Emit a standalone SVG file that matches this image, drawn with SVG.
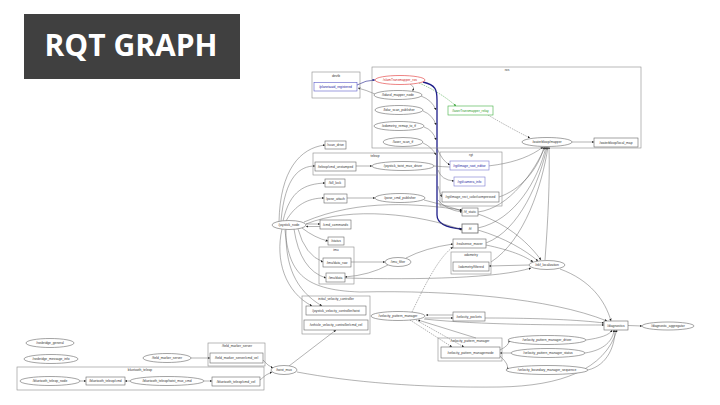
<svg xmlns="http://www.w3.org/2000/svg" width="720" height="405" viewBox="0 0 720 405">
<defs>
<marker id="a" viewBox="0 0 10 10" refX="10" refY="5" markerWidth="2.4" markerHeight="2.4" markerUnits="userSpaceOnUse" orient="auto"><path d="M0,0 L10,5 L0,10 z" fill="#222"/></marker>
<marker id="ab" viewBox="0 0 10 10" refX="10" refY="5" markerWidth="2.6" markerHeight="2.6" markerUnits="userSpaceOnUse" orient="auto"><path d="M0,0 L10,5 L0,10 z" fill="#1e1e8a"/></marker>
<marker id="ag" viewBox="0 0 10 10" refX="10" refY="5" markerWidth="2.4" markerHeight="2.4" markerUnits="userSpaceOnUse" orient="auto"><path d="M0,0 L10,5 L0,10 z" fill="#2a9a2a"/></marker>
</defs>
<style>
.bg{fill:#fff}
.title{fill:#404040}
.tt{font-family:"Open Sans","Liberation Sans",sans-serif;font-weight:700;font-size:30px;fill:#fff;text-anchor:middle}
.cl{fill:none;stroke:#8a8a8a;stroke-width:0.6}
.nb{fill:#fff;stroke:#666;stroke-width:0.6}
.ne{fill:#fff;stroke:#666;stroke-width:0.6}
.t{font-family:"Liberation Sans",Arial,sans-serif;font-size:3.3px;fill:#333;text-anchor:middle}
.blue{fill:#1a1aa0}
.red{fill:#d02020}
.green{fill:#2a9a2a}
.e{fill:none;stroke:#555;stroke-width:0.45;marker-end:url(#a)}
.ed{fill:none;stroke:#555;stroke-width:0.45;stroke-dasharray:1.5 1;marker-end:url(#a)}
.eb{fill:none;stroke:#1e1e8a;stroke-width:0.6;marker-end:url(#ab)}
.eg{fill:none;stroke:#2a9a2a;stroke-width:0.5;stroke-dasharray:1.5 1;marker-end:url(#ag)}
</style>
<rect class="bg" x="0" y="0" width="720" height="405"/>
<g id="title">
<rect class="title" x="24" y="14" width="216" height="65"/>
<text class="tt" x="131" y="56">RQT GRAPH</text>
</g>

<g id="connectors">
<path class="eb" d="M357,85 Q366,80 375,80"/>
<path class="e" d="M375,94 Q366,90 358,88"/>
<path class="eg" d="M419,83 Q440,92 456,106"/>
<path class="ed" d="M488,115 Q510,128 530,138"/>
<path class="e" d="M572,142 L594,142"/>
<path class="eb" style="stroke-width:1.3" d="M423,82 C436,85 437,90 437,100 L437,215 Q437,227 462,229"/>
<path class="e" d="M410,84 Q416,88 412,90.5"/>
<path class="e" d="M421,96 Q432,100 436,110"/>
<path class="e" d="M423,111 Q433,115 436,125"/>
<path class="e" d="M424,127 Q433,130 436,140"/>
<path class="e" d="M423,143 Q432,147 436,155"/>
<path class="e" d="M437,148 Q442,161 450,165"/>
<path class="e" d="M438,170 Q441,180 454,181"/>
<path class="e" d="M438,186 Q440,194 442,197"/>
<path class="e" d="M438,200 Q446,210 462,212"/>
<path class="e" d="M306,224 C350,206 420,214 462,230"/>
<path class="e" d="M304,222 C360,198 420,204 462,210"/>
<path class="e" d="M424,200 Q445,205 462,211"/>
<path class="e" d="M478,212 C510,208 535,170 545,147"/>
<path class="e" d="M478,228 C515,220 538,180 546,147"/>
<path class="e" d="M486,243 C520,230 540,180 547,147"/>
<path class="e" d="M491,262 C525,240 542,185 548,147"/>
<path class="e" d="M499,197 C520,190 538,170 544,147"/>
<path class="e" d="M545,260 C548,220 550,180 549,147"/>
<path class="e" d="M434,166 C480,170 520,165 543,147"/>
<path class="e" d="M478,230 C505,238 525,250 538,261"/>
<path class="e" d="M478,214 C510,225 530,245 541,260"/>
<path class="e" d="M486,245 C510,250 525,256 533,262"/>
<path class="e" d="M529,265 L489,266"/>
<path class="e" d="M345,278 C420,280 500,278 531,268"/>
<path class="e" d="M351,262 L385,262"/>
<path class="e" d="M388,265 Q370,275 345,277"/>
<path class="e" d="M406,258 Q425,248 453,244"/>
<path class="ed" d="M412,312 C425,285 438,258 453,247"/>
<path class="e" d="M560,269 C590,280 605,300 611,321"/>
<path class="e" d="M285,230 C289,270 300,290 360,292 C450,290 550,298 607,321"/>
<path class="e" d="M453,315 L426,315"/>
<path class="e" d="M425,318 L453,318"/>
<path class="e" d="M424,319 C480,325 560,325 604,325"/>
<path class="e" d="M485,318 C540,318 580,320 604,323"/>
<path class="ed" d="M410,320 L452,347"/>
<path class="ed" d="M416,320 L464,347"/>
<path class="e" d="M476,338 L418,320"/>
<path class="e" d="M500,350 Q510,345 509,340"/>
<path class="e" d="M511,353 L500,353"/>
<path class="e" d="M500,356 Q510,365 507,370"/>
<path class="e" d="M586,340 C600,338 610,335 612,330"/>
<path class="e" d="M585,353 C605,350 613,340 614,330"/>
<path class="e" d="M588,370 C608,365 615,345 615,330"/>
<path class="e" d="M297,372 C350,382 420,388 500,387 C560,386 605,370 617,330"/>
<path class="e" d="M628,325.5 L642,326"/>
<path class="e" d="M191,358 L210,358"/>
<path class="e" d="M263,360 Q268,366 273,368"/>
<path class="e" d="M80,381 L86,381"/>
<path class="e" d="M130,381 L125,381"/>
<path class="e" d="M204,381 L212,381"/>
<path class="e" d="M260,380 Q266,374 272,372"/>
<path class="e" d="M289,366 L336,330"/>
<path class="e" d="M282,229 C275,260 285,292 312,306"/>
<path class="e" d="M286,229 C285,265 295,290 322,306"/>
<path class="e" d="M279,222 C280,170 300,148 325,145"/>
<path class="e" d="M281,221 C285,176 300,166 315,166"/>
<path class="e" d="M283,221 C290,190 305,184 325,183"/>
<path class="e" d="M286,221 C295,205 308,198 324,198"/>
<path class="e" d="M306,224 L320,224"/>
<path class="e" d="M320,226.5 L306,226.5"/>
<path class="e" d="M302,228 Q315,238 328,241"/>
<path class="e" d="M298,229 Q305,255 323,262"/>
<path class="e" d="M294,229 Q300,270 326,278"/>
<path class="e" d="M356,166 L372,166"/>
<path class="e" d="M347,198 L375,198"/>
</g>

<g id="cluster_devtb"><rect class="cl" x="312" y="72" width="48" height="26"/><text class="t" x="336" y="77">devtb</text></g>
<g id="cluster_ros"><rect class="cl" x="372" y="67" width="269" height="81"/><text class="t" x="507" y="71">ros</text></g>
<g id="cluster_teleop"><rect class="cl" x="313" y="153" width="124" height="22"/><text class="t" x="375" y="157">teleop</text></g>
<g id="cluster_rgt"><rect class="cl" x="440" y="152" width="62" height="54"/><text class="t" x="471" y="156">rgt</text></g>
<g id="cluster_odometry"><rect class="cl" x="451" y="252" width="40" height="22"/><text class="t" x="471" y="256">odometry</text></g>
<g id="cluster_imu"><rect class="cl" x="319" y="247" width="35" height="37"/><text class="t" x="336" y="251">imu</text></g>
<g id="cluster_initial_velocity"><rect class="cl" x="302" y="296" width="68" height="38"/><text class="t" x="336" y="300">initial_velocity_controller</text></g>
<g id="cluster_vpm"><rect class="cl" x="438" y="338" width="64" height="23"/><text class="t" x="470" y="342">/velocity_pattern_manager</text></g>
<g id="cluster_field_marker"><rect class="cl" x="208" y="343" width="57" height="23"/><text class="t" x="237" y="347">/field_marker_server</text></g>
<g id="cluster_bluetooth"><rect class="cl" x="17" y="367" width="247" height="23"/><text class="t" x="140" y="371">bluetooth_teleop</text></g>

<g id="n_planet"><rect class="nb" style="stroke:#5a5ac8" x="314" y="82.5" width="43" height="8.5"/><text class="t blue" x="335.5" y="88">/planetaaid_registered</text></g>
<g id="n_slam"><ellipse class="ne" style="stroke:#e03030" cx="400" cy="80" rx="25" ry="4.5"/><text class="t red" x="400" y="81.2">/slamTransmapper_ros</text></g>
<g id="n_lidar_mapper"><ellipse class="ne" cx="398" cy="95" rx="24" ry="4.5"/><text class="t" x="398" y="96.2">/lidarol_mapper_node</text></g>
<g id="n_lidar_scan"><ellipse class="ne" cx="399" cy="110" rx="24" ry="4.5"/><text class="t" x="399" y="111.2">/lidar_scan_publisher</text></g>
<g id="n_odom_remap"><ellipse class="ne" cx="399" cy="126" rx="25" ry="4.5"/><text class="t" x="399" y="127.2">/odometry_remap_to_tf</text></g>
<g id="n_laser_tf"><ellipse class="ne" cx="403" cy="142" rx="20" ry="4.5"/><text class="t" x="403" y="143.2">/laser_scan_tf</text></g>
<g id="n_relay"><rect class="nb" style="stroke:#40b040" x="448" y="106" width="45" height="9"/><text class="t green" x="470.5" y="111.7">/laserTransmapper_relay</text></g>
<g id="n_mapper"><ellipse class="ne" cx="547" cy="142" rx="25" ry="4.5"/><text class="t" x="547" y="143.2">/waterbloop/mapper</text></g>
<g id="n_local_map"><rect class="nb" x="594" y="138" width="44" height="9"/><text class="t" x="616" y="143.7">/waterbloop/local_map</text></g>

<g id="n_scan_drive"><rect class="nb" x="325" y="141" width="21" height="8"/><text class="t" x="335.5" y="146.2">/scan_drive</text></g>
<g id="n_cmd_unstamped"><rect class="nb" x="315" y="162" width="41" height="9"/><text class="t" x="335.5" y="167.7">/teleop/cmd_unstamped</text></g>
<g id="n_twist_driver"><ellipse class="ne" cx="403" cy="166" rx="31" ry="4.5"/><text class="t" x="403" y="167.2">/joystick_twist_mux_driver</text></g>
<g id="n_kill_lock"><rect class="nb" x="325" y="179" width="20" height="8"/><text class="t" x="335" y="184.2">/kill_lock</text></g>
<g id="n_pose_attach"><rect class="nb" x="324" y="194" width="23" height="9"/><text class="t" x="335.5" y="199.7">/pose_attach</text></g>
<g id="n_pose_cmd"><ellipse class="ne" cx="400" cy="198" rx="25" ry="4.5"/><text class="t" x="400" y="199.2">/pose_cmd_publisher</text></g>
<g id="n_cmd_commands"><rect class="nb" x="320" y="220" width="31" height="9"/><text class="t" x="335.5" y="225.7">/cmd_commands</text></g>
<g id="n_status"><rect class="nb" x="328" y="237" width="16" height="8"/><text class="t" x="336" y="242.2">/status</text></g>
<g id="n_joystick"><ellipse class="ne" cx="289" cy="225" rx="17" ry="4.5"/><text class="t" x="289" y="226.2">/joystick_node</text></g>
<g id="n_imu_raw"><rect class="nb" x="323" y="258" width="28" height="9"/><text class="t" x="337" y="263.7">/imu/data_raw</text></g>
<g id="n_imu_data"><rect class="nb" x="326" y="273" width="19" height="9"/><text class="t" x="335.5" y="278.7">/imu/data</text></g>
<g id="n_imu_filter"><ellipse class="ne" cx="398" cy="262" rx="13" ry="4.5"/><text class="t" x="398" y="263.2">/imu_filter</text></g>

<g id="n_image_root"><rect class="nb" style="stroke:#7a7ad0" x="450" y="161" width="39" height="9"/><text class="t blue" x="469.5" y="166.7">/rgt/image_root_editor</text></g>
<g id="n_camera_info"><rect class="nb" style="stroke:#7a7ad0" x="454" y="177" width="31" height="9"/><text class="t blue" x="469.5" y="182.7">/rgt/camera_info</text></g>
<g id="n_compressed"><rect class="nb" x="442" y="192" width="57" height="10"/><text class="t" x="470.5" y="198.2">/rgt/image_rect_color/compressed</text></g>
<g id="n_tf_static"><rect class="nb" x="462" y="208" width="16" height="8"/><text class="t" x="470" y="213.2">/tf_static</text></g>
<g id="n_tf"><rect class="nb" style="stroke-width:0.8" x="462" y="224" width="16" height="9"/><text class="t" x="470" y="229.7">/tf</text></g>
<g id="n_realsense"><rect class="nb" x="453" y="239" width="33" height="9"/><text class="t" x="469.5" y="244.7">/realsense_mover</text></g>
<g id="n_odom_filtered"><rect class="nb" x="453" y="262" width="36" height="9"/><text class="t" x="471" y="267.7">/odometry/filtered</text></g>
<g id="n_ekf"><ellipse class="ne" cx="547" cy="265" rx="18" ry="4.5"/><text class="t" x="547" y="266.2">/ekf_localization</text></g>

<g id="n_joy_twist"><rect class="nb" x="306" y="306" width="60" height="9"/><text class="t" x="336" y="311.7">/joystick_velocity_controller/twist</text></g>
<g id="n_vehicle_cmd"><rect class="nb" x="304" y="320" width="64" height="10"/><text class="t" x="336" y="326.2">/vehicle_velocity_controller/cmd_vel</text></g>
<g id="n_vpm"><ellipse class="ne" cx="398" cy="316" rx="27" ry="4.5"/><text class="t" x="398" y="317.2">/velocity_pattern_manager</text></g>
<g id="n_vpockets"><rect class="nb" x="453" y="312" width="32" height="9"/><text class="t" x="469" y="317.7">/velocity_pockets</text></g>
<g id="n_vpm_node"><rect class="nb" x="441" y="347" width="59" height="11"/><text class="t" x="470.5" y="353.7">/velocity_pattern_managernode</text></g>
<g id="n_s1"><ellipse class="ne" cx="547" cy="340" rx="39" ry="4.5"/><text class="t" x="547" y="341.2">/velocity_pattern_manager_driver</text></g>
<g id="n_s2"><ellipse class="ne" cx="548" cy="353" rx="37" ry="4.5"/><text class="t" x="548" y="354.2">/velocity_pattern_manager_status</text></g>
<g id="n_s3"><ellipse class="ne" cx="547" cy="370" rx="41" ry="4.5"/><text class="t" x="547" y="371.2">/velocity_boundary_manager_sequence</text></g>
<g id="n_diagnostics"><rect class="nb" x="604" y="321" width="24" height="9"/><text class="t" x="616" y="326.7">/diagnostics</text></g>
<g id="n_diag_agg"><ellipse class="ne" cx="668" cy="326" rx="26" ry="4"/><text class="t" x="668" y="327.2">/diagnostic_aggregator</text></g>

<g id="n_rb_general"><ellipse class="ne" cx="50" cy="343" rx="24" ry="4.5"/><text class="t" x="50" y="344.2">/rosbridge_general</text></g>
<g id="n_rb_msg"><ellipse class="ne" cx="51" cy="359" rx="27" ry="4.5"/><text class="t" x="51" y="360.2">/rosbridge_message_info</text></g>
<g id="n_field_marker"><ellipse class="ne" cx="167" cy="358" rx="24" ry="4.5"/><text class="t" x="167" y="359.2">/field_marker_server</text></g>
<g id="n_field_cmd"><rect class="nb" x="210" y="353" width="53" height="10"/><text class="t" x="236.5" y="359.2">/field_marker_server/cmd_vel</text></g>
<g id="n_twist_mux"><ellipse class="ne" cx="284" cy="370" rx="13" ry="4.5"/><text class="t" x="284" y="371.2">/twist_mux</text></g>
<g id="n_bt_node"><ellipse class="ne" cx="50" cy="381" rx="30" ry="4.5"/><text class="t" x="50" y="382.2">/bluetooth_teleop_node</text></g>
<g id="n_bt_cmd"><rect class="nb" x="86" y="377" width="39" height="8"/><text class="t" x="105.5" y="382.2">/bluetooth_teleop/cmd</text></g>
<g id="n_bt_twist"><ellipse class="ne" cx="167" cy="381" rx="37" ry="4.5"/><text class="t" x="167" y="382.2">/bluetooth_teleop/twist_mux_cmd</text></g>
<g id="n_bt_cmd_vel"><rect class="nb" x="212" y="377" width="48" height="9"/><text class="t" x="236" y="382.7">/bluetooth_teleop/cmd_vel</text></g>
</svg>
